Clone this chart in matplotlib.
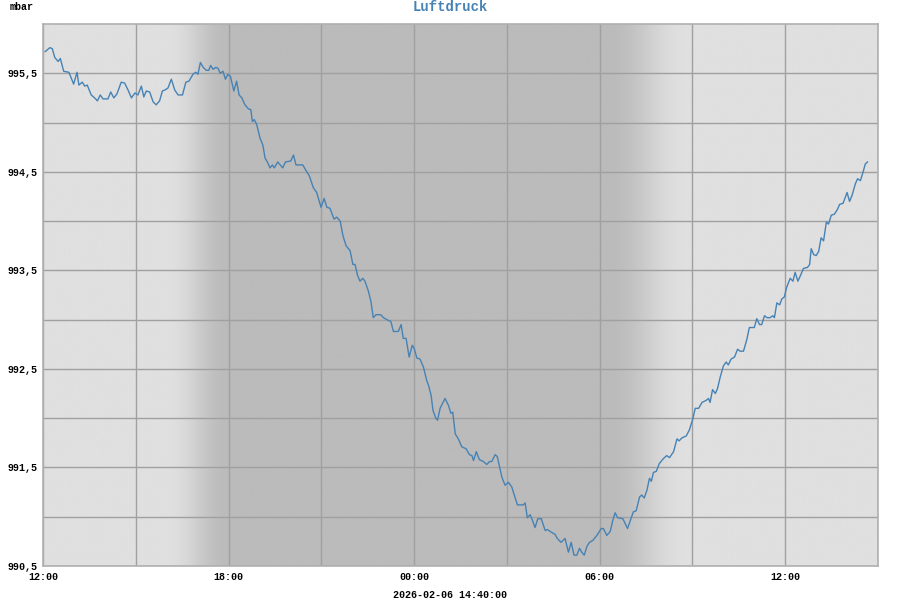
import numpy as np
import pandas as pd
import matplotlib
matplotlib.use("Agg")
import matplotlib.pyplot as plt
import matplotlib.dates as mdates
from matplotlib.ticker import FuncFormatter
from matplotlib.colors import LinearSegmentedColormap

# Stunden seit 2026-02-05 12:00
stunden = [0.07, 0.11, 0.22, 0.30, 0.38, 0.49, 0.56, 0.67, 0.84, 0.99, 1.10, 1.16, 1.27, 1.35, 1.43,
           1.56, 1.67, 1.76, 1.85, 1.94, 2.10, 2.19, 2.29, 2.39, 2.53, 2.64, 2.75, 2.86, 2.97, 3.07,
           3.18, 3.26, 3.34, 3.45, 3.56, 3.66, 3.77, 3.86, 3.94, 4.04, 4.15, 4.26, 4.37, 4.51, 4.62,
           4.72, 4.85, 4.94, 5.01, 5.09, 5.18, 5.28, 5.36, 5.42, 5.50, 5.59, 5.66, 5.73, 5.82, 5.90,
           5.98, 6.06, 6.17, 6.26, 6.34, 6.43, 6.53, 6.64, 6.72, 6.77, 6.83, 6.91, 7.02, 7.11, 7.18,
           7.27, 7.34, 7.42, 7.48, 7.59, 7.67, 7.75, 7.84, 8.01, 8.10, 8.18, 8.40, 8.51, 8.61, 8.74,
           8.85, 8.99, 9.09, 9.18, 9.28, 9.41, 9.50, 9.61, 9.70, 9.80, 9.93, 10.02, 10.09, 10.17, 10.25,
           10.34, 10.41, 10.52, 10.60, 10.68, 10.77, 10.92, 11.01, 11.12, 11.25, 11.33, 11.49, 11.58, 11.65, 11.74,
           11.84, 11.94, 12.00, 12.09, 12.19, 12.30, 12.41, 12.47, 12.55, 12.61, 12.70, 12.76, 12.84, 13.00, 13.11,
           13.19, 13.25, 13.33, 13.43, 13.54, 13.68, 13.79, 13.87, 13.92, 14.01, 14.11, 14.24, 14.35, 14.44, 14.51,
           14.62, 14.69, 14.84, 14.94, 15.05, 15.16, 15.34, 15.53, 15.59, 15.66, 15.75, 15.82, 15.91, 16.00, 16.11,
           16.24, 16.31, 16.40, 16.56, 16.63, 16.75, 16.88, 16.99, 17.08, 17.17, 17.26, 17.35, 17.42, 17.50, 17.59,
           17.67, 17.78, 17.91, 18.05, 18.12, 18.23, 18.34, 18.43, 18.50, 18.58, 18.75, 18.90, 19.01, 19.09, 19.18,
           19.29, 19.36, 19.44, 19.53, 19.61, 19.67, 19.74, 19.83, 19.93, 20.06, 20.17, 20.26, 20.39, 20.50, 20.57,
           20.66, 20.80, 20.90, 21.01, 21.09, 21.20, 21.31, 21.44, 21.52, 21.57, 21.65, 21.74, 21.81, 21.90, 22.00,
           22.09, 22.16, 22.25, 22.36, 22.46, 22.54, 22.65, 22.76, 22.84, 23.00, 23.08, 23.17, 23.24, 23.33, 23.41,
           23.51, 23.60, 23.65, 23.73, 23.82, 23.89, 23.97, 24.05, 24.16, 24.25, 24.32, 24.41, 24.51, 24.59, 24.72,
           24.79, 24.84, 24.92, 25.00, 25.08, 25.16, 25.24, 25.33, 25.40, 25.49, 25.59, 25.69, 25.76, 25.87, 26.00,
           26.08, 26.16, 26.27, 26.34, 26.43, 26.51, 26.59, 26.66]

druck = [995.72, 995.73, 995.76, 995.75, 995.66, 995.62, 995.65, 995.52, 995.51, 995.39, 995.51, 995.38, 995.41, 995.37, 995.38,
         995.28, 995.25, 995.22, 995.28, 995.24, 995.24, 995.31, 995.25, 995.29, 995.41, 995.40, 995.33, 995.25, 995.30, 995.28,
         995.37, 995.26, 995.32, 995.31, 995.21, 995.18, 995.22, 995.32, 995.33, 995.35, 995.44, 995.33, 995.28, 995.28, 995.41,
         995.42, 995.49, 995.51, 995.49, 995.61, 995.56, 995.53, 995.53, 995.58, 995.54, 995.56, 995.55, 995.50, 995.52, 995.44,
         995.49, 995.47, 995.32, 995.42, 995.28, 995.25, 995.18, 995.14, 995.13, 995.01, 995.03, 994.98, 994.84, 994.77, 994.64,
         994.59, 994.54, 994.57, 994.54, 994.60, 994.57, 994.54, 994.60, 994.61, 994.67, 994.57, 994.57, 994.51, 994.46, 994.34,
         994.29, 994.14, 994.23, 994.14, 994.13, 994.02, 994.04, 994.00, 993.85, 993.75, 993.70, 993.56, 993.56, 993.45, 993.39,
         993.42, 993.39, 993.29, 993.19, 993.02, 993.05, 993.05, 993.02, 993.00, 992.98, 992.88, 992.88, 992.95, 992.81, 992.81,
         992.62, 992.74, 992.71, 992.61, 992.60, 992.52, 992.38, 992.33, 992.23, 992.08, 992.00, 991.98, 992.10, 992.20, 992.13,
         992.05, 992.06, 991.84, 991.79, 991.71, 991.69, 991.63, 991.62, 991.57, 991.66, 991.58, 991.56, 991.53, 991.56, 991.56,
         991.63, 991.61, 991.40, 991.32, 991.35, 991.30, 991.12, 991.12, 991.14, 990.99, 991.02, 990.97, 990.89, 990.98, 990.98,
         990.86, 990.87, 990.85, 990.82, 990.78, 990.74, 990.78, 990.64, 990.74, 990.61, 990.61, 990.68, 990.64, 990.61, 990.70,
         990.74, 990.76, 990.81, 990.88, 990.88, 990.81, 990.85, 990.97, 991.04, 990.99, 990.98, 990.88, 990.98, 991.05, 991.06,
         991.20, 991.22, 991.19, 991.27, 991.39, 991.36, 991.45, 991.46, 991.54, 991.59, 991.62, 991.60, 991.66, 991.79, 991.77,
         991.80, 991.82, 991.88, 991.99, 992.10, 992.10, 992.16, 992.18, 992.20, 992.16, 992.29, 992.25, 992.30, 992.42, 992.53,
         992.57, 992.54, 992.60, 992.62, 992.70, 992.68, 992.68, 992.80, 992.92, 992.92, 993.01, 992.95, 992.95, 993.04, 993.02,
         993.02, 993.04, 993.02, 993.17, 993.15, 993.21, 993.23, 993.33, 993.42, 993.39, 993.48, 993.39, 993.46, 993.52, 993.53,
         993.56, 993.72, 993.66, 993.65, 993.69, 993.83, 993.80, 993.99, 993.97, 994.06, 994.07, 994.12, 994.17, 994.18, 994.29,
         994.20, 994.26, 994.38, 994.43, 994.41, 994.49, 994.58, 994.60]

start = pd.Timestamp("2026-02-05 12:00")
ende = pd.Timestamp("2026-02-06 15:00")
zeiten = start + pd.to_timedelta(stunden, unit="h")

# Dämmerung (Stunden seit Start)
abend = (4.0, 6.0)
morgen = (18.3, 20.8)

mono = ["Liberation Mono", "DejaVu Sans Mono"]
blau = "#4682b4"

fig = plt.figure(figsize=(9, 6), dpi=100)
ax = fig.add_axes([43 / 900, 34 / 600, 835 / 900, 542 / 600])

# Tag/Nacht-Hintergrund
h = np.linspace(0, 27, 2000)
a = np.clip((h - abend[0]) / (abend[1] - abend[0]), 0, 1)
m = np.clip((h - morgen[0]) / (morgen[1] - morgen[0]), 0, 1)
nacht = np.where(h < 12, (1 - np.cos(np.pi * a)) / 2, (1 + np.cos(np.pi * m)) / 2)
cmap = LinearSegmentedColormap.from_list("tn", ["#e0e0e0", "#bbbbbb"])
x0 = mdates.date2num(start)
x1 = mdates.date2num(ende)
ax.imshow(nacht[np.newaxis, :], aspect="auto", cmap=cmap, vmin=0, vmax=1,
          extent=[x0, x1, 990.5, 996.0], zorder=0, interpolation="bilinear")

ax.plot(zeiten, druck, color=blau, lw=1.0, zorder=3)

ax.set_xlim(start, ende)
ax.set_ylim(990.5, 996.0)
ax.set_yticks(np.arange(990.5, 996.0, 1.0))
ax.set_yticks(np.arange(991.0, 996.0, 1.0), minor=True)
ax.yaxis.set_major_formatter(FuncFormatter(lambda v, p: f"{v:.1f}".replace(".", ",")))
ax.xaxis.set_major_locator(mdates.HourLocator(byhour=[0, 6, 12, 18]))
ax.xaxis.set_minor_locator(mdates.HourLocator(byhour=[3, 9, 15, 21]))
ax.xaxis.set_major_formatter(mdates.DateFormatter("%H:%M"))

ax.grid(True, which="both", color="#a0a0a0", lw=1.0, zorder=1)
for s in ax.spines.values():
    s.set_color("#b0b0b0")
    s.set_linewidth(1.2)
ax.tick_params(which="both", length=0, labelsize=7.2, colors="black")
ax.tick_params(axis="x", pad=4)
ax.tick_params(axis="y", pad=4)
for lab in ax.get_xticklabels() + ax.get_yticklabels():
    lab.set_family(mono)
    lab.set_weight("bold")

fig.text(10 / 900, 1 - 7 / 600, "mbar", family=mono, weight="bold", fontsize=7.2, va="center", ha="left")
fig.text(450 / 900, 1 - 7 / 600, "Luftdruck", family=mono, weight="bold", fontsize=10, color=blau,
         va="center", ha="center")
fig.text(450 / 900, 1 - 595 / 600, "2026-02-06 14:40:00", family=mono, weight="bold", fontsize=7.2,
         va="center", ha="center")

fig.savefig("out.png", dpi=100)
